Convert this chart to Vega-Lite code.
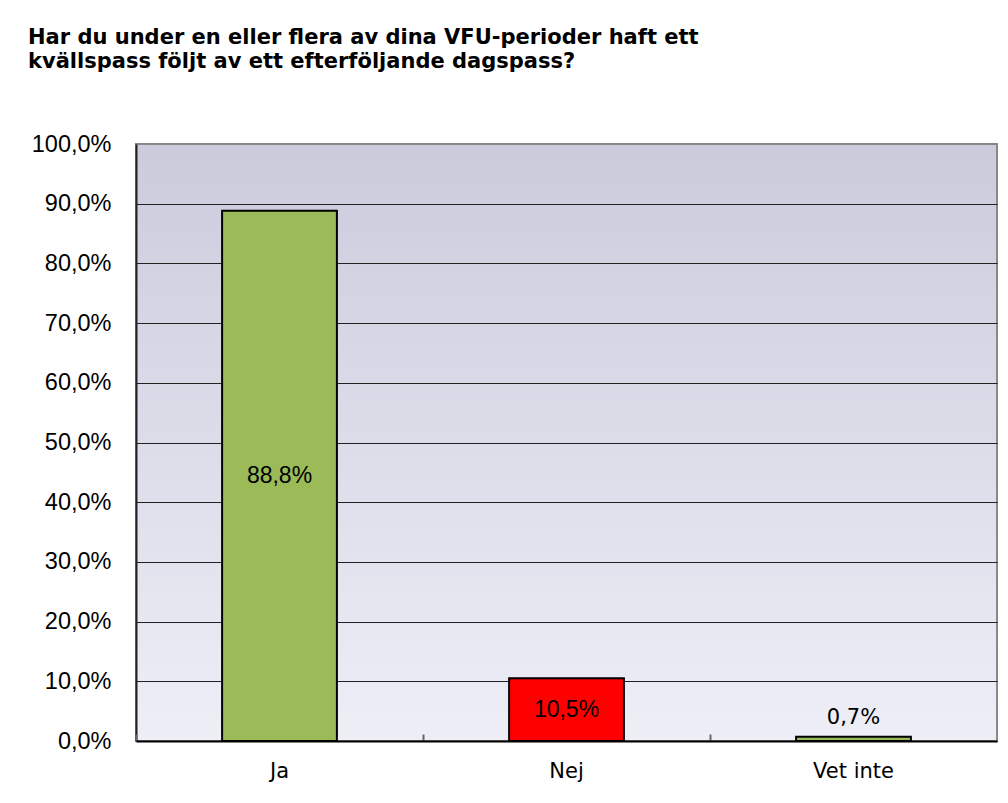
{
  "$schema": "https://vega.github.io/schema/vega-lite/v6.json",
  "autosize": {"type": "none"},
  "padding": {"left": 136, "top": 144, "right": 11, "bottom": 62},
  "width": 861,
  "height": 597,
  "background": "#ffffff",
  "view": {
    "fill": {"gradient": "linear", "x1": 0, "y1": 0, "x2": 0, "y2": 1, "stops": [{"offset": 0, "color": "#cbcbdc"}, {"offset": 1, "color": "#eeeef7"}]},
    "stroke": "#888888",
    "strokeWidth": 2
  },
  "title": {
    "text": ["Har du under en eller flera av dina VFU-perioder haft ett", "kvällspass följt av ett efterföljande dagspass?"],
    "anchor": "start",
    "frame": "group",
    "dx": -108,
    "offset": 60,
    "font": "DejaVu Sans",
    "fontWeight": "bold",
    "fontSize": 21,
    "lineHeight": 24,
    "color": "#000000"
  },
  "data": {"values": [
    {"svar": "Ja", "andel": 0.888},
    {"svar": "Nej", "andel": 0.105},
    {"svar": "Vet inte", "andel": 0.007}
  ]},
  "layer": [
    {
      "mark": {"type": "bar", "stroke": "#000000", "strokeWidth": 2},
      "encoding": {
        "x": {
          "field": "svar", "type": "nominal", "sort": null,
          "scale": {"paddingInner": 0.6, "paddingOuter": 0.3},
          "axis": {
            "title": null, "labelAngle": 0, "labelFont": "DejaVu Sans", "labelFontSize": 21, "labelColor": "#000000",
            "labelPadding": 26, "ticks": true, "bandPosition": -0.75, "tickSize": -7, "tickColor": "#666666", "tickWidth": 2,
            "domainColor": "#000000", "domainWidth": 2, "grid": false, "zindex": 2
          }
        },
        "y": {
          "field": "andel", "type": "quantitative",
          "scale": {"domain": [0, 1], "nice": false},
          "axis": {
            "title": null, "format": ".1%", "values": [0, 0.1, 0.2, 0.3, 0.4, 0.5, 0.6, 0.7, 0.8, 0.9, 1],
            "labelFont": "Liberation Sans", "labelFontSize": 23.5, "labelColor": "#000000", "labelPadding": 25,
            "ticks": false, "domainColor": "#222222", "domainWidth": 2,
            "gridColor": "#222222", "gridWidth": 1,
            "gridOpacity": {"condition": {"test": "datum.value >= 1", "value": 0}, "value": 1}
          }
        },
        "color": {
          "field": "svar", "type": "nominal",
          "scale": {"domain": ["Ja", "Nej", "Vet inte"], "range": ["#9bbb59", "#ff0000", "#9bbb59"]},
          "legend": null
        }
      }
    },
    {
      "transform": [{"filter": "datum.svar !== 'Vet inte'"}],
      "mark": {"type": "text", "font": "Liberation Sans", "fontSize": 23, "color": "#000000", "baseline": "middle"},
      "encoding": {
        "x": {"field": "svar", "type": "nominal", "sort": null},
        "y": {"field": "andel", "type": "quantitative", "stack": "zero", "bandPosition": 0.5},
        "text": {"field": "andel", "type": "quantitative", "format": ".1%"}
      }
    },
    {
      "transform": [{"filter": "datum.svar === 'Vet inte'"}],
      "mark": {"type": "text", "font": "DejaVu Sans", "fontSize": 21, "color": "#000000", "baseline": "alphabetic", "dy": -13},
      "encoding": {
        "x": {"field": "svar", "type": "nominal", "sort": null},
        "y": {"field": "andel", "type": "quantitative"},
        "text": {"field": "andel", "type": "quantitative", "format": ".1%"}
      }
    }
  ],
  "config": {
    "locale": {"number": {"decimal": ",", "thousands": " ", "grouping": [3], "currency": ["", " kr"]}}
  }
}
